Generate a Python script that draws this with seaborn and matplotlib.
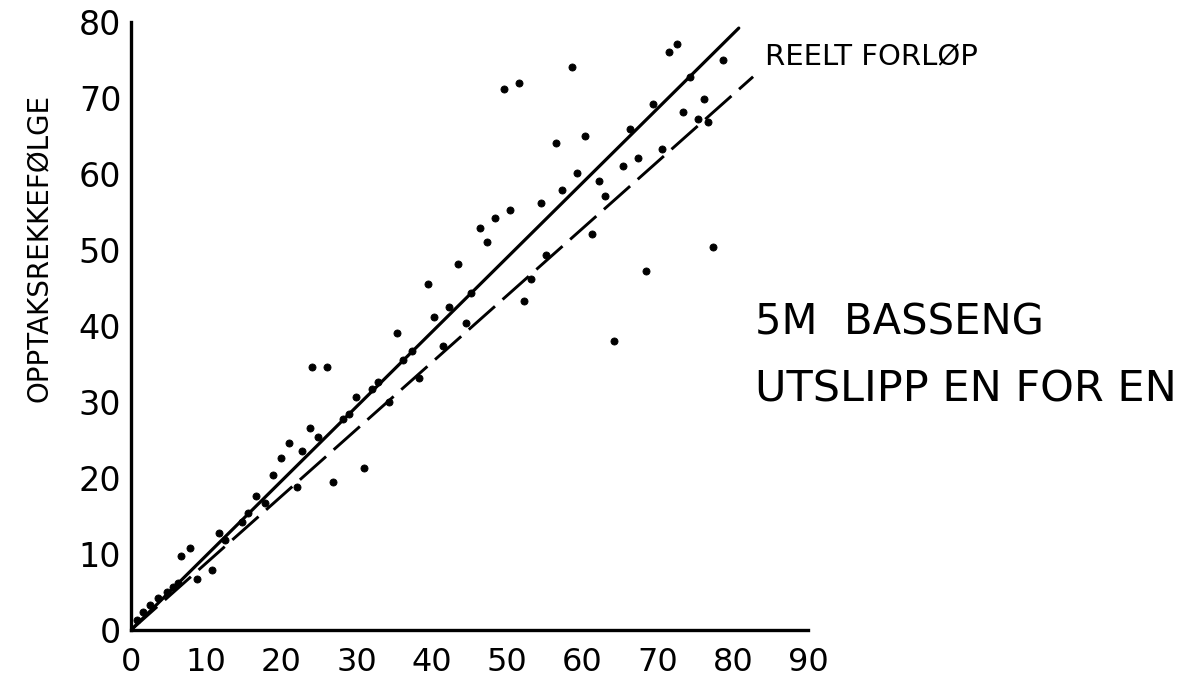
import matplotlib
matplotlib.use("Agg")
import matplotlib.pyplot as plt
import seaborn as sns
import pandas as pd

# Observed release order (x) against recapture order (y)
release_order = [0.8, 1.6, 2.5, 3.6, 4.8, 5.6, 6.3, 6.6, 7.8, 8.8,
                 10.8, 11.7, 12.5, 14.8, 15.6, 16.6, 17.8, 18.9, 19.9, 21.0,
                 22.1, 22.7, 23.8, 24.9, 24.1, 26.1, 26.9, 28.2, 29.0, 29.9,
                 31.0, 32.0, 32.8, 34.3, 35.4, 36.2, 37.4, 38.3, 39.5, 40.3,
                 41.5, 42.3, 43.5, 44.5, 45.2, 46.4, 47.3, 48.4, 50.4, 49.6,
                 51.6, 52.3, 53.2, 54.5, 55.2, 56.5, 57.3, 58.6, 59.3, 60.4,
                 61.3, 62.2, 63.0, 64.2, 65.4, 66.4, 67.4, 68.5, 69.4, 70.6,
                 71.5, 72.6, 73.4, 74.3, 75.4, 76.2, 76.7, 77.4, 78.7]
capture_order = [1.3, 2.4, 3.3, 4.2, 5.0, 5.7, 6.2, 9.7, 10.8, 6.7,
                 7.9, 12.8, 11.8, 14.2, 15.4, 17.6, 16.7, 20.4, 22.6, 24.6,
                 18.8, 23.6, 26.6, 25.4, 34.6, 34.6, 19.5, 27.8, 28.4, 30.7,
                 21.3, 31.7, 32.6, 30.0, 39.1, 35.5, 36.7, 33.2, 45.5, 41.2,
                 37.4, 42.5, 48.2, 40.4, 44.3, 52.9, 51.1, 54.2, 55.3, 71.2,
                 72.0, 43.3, 46.2, 56.2, 49.3, 64.1, 57.9, 74.1, 60.1, 65.0,
                 52.1, 59.1, 57.1, 38.0, 61.1, 65.9, 62.1, 47.2, 69.2, 63.3,
                 76.1, 77.1, 68.2, 72.8, 67.2, 69.9, 66.8, 50.4, 75.0]

# Reference line (actual course) and fitted trend
real_x = [0, 80.8]
real_y = [0, 79.2]
trend_x = [0, 82.7]
trend_y = [0, 72.8]

x_ticks = [0, 10, 20, 30, 40, 50, 60, 70, 80, 90]
y_ticks = [0, 10, 20, 30, 40, 50, 60, 70, 80]

sns.set_style("white")
plt.rcParams["font.family"] = ["DejaVu Sans"]

fig = plt.figure(figsize=(12.02, 6.86), dpi=100)
ax = fig.add_axes([131 / 1202, 1 - 630 / 686, (808 - 131) / 1202, (630 - 22) / 686])

points = pd.DataFrame({"x": release_order, "y": capture_order})
sns.scatterplot(data=points, x="x", y="y", color="black", s=26,
                edgecolor="black", linewidth=0.6, ax=ax, zorder=3)
sns.lineplot(x=real_x, y=real_y, color="black", lw=2.3, ax=ax)
sns.lineplot(x=trend_x, y=trend_y, color="black", lw=2.1,
             linestyle=(0, (12, 3.5)), ax=ax)

ax.set_xlim(0, 90)
ax.set_ylim(0, 80)
ax.set_xticks(x_ticks)
ax.set_yticks(y_ticks)
ax.set_xticklabels([str(t) for t in x_ticks])
ax.set_yticklabels([str(t) for t in y_ticks])
ax.set_xlabel("")
ax.set_ylabel("")

for side in ("top", "right"):
    ax.spines[side].set_visible(False)
for side in ("left", "bottom"):
    ax.spines[side].set_linewidth(2.4)
    ax.spines[side].set_color("black")

ax.tick_params(axis="x", direction="in", length=12, width=1.9,
               labelsize=23, pad=12, colors="black")
ax.tick_params(axis="y", direction="in", length=10, width=1.9,
               labelsize=24, pad=7, colors="black")
ax.patch.set_alpha(0)

fig.text(40 / 1202, 1 - 248 / 686, "OPPTAKSREKKEFØLGE", rotation=90,
         ha="center", va="center", fontsize=20, color="black")
fig.text(765 / 1202, 1 - 57 / 686, "REELT FORLØP", ha="left", va="center",
         fontsize=21, color="black")
fig.text(755 / 1202, 1 - 322 / 686, "5M  BASSENG", ha="left", va="center",
         fontsize=30, color="black")
fig.text(755 / 1202, 1 - 389 / 686, "UTSLIPP EN FOR EN", ha="left",
         va="center", fontsize=31, color="black")

fig.savefig("out.png", dpi=100, facecolor="white")
